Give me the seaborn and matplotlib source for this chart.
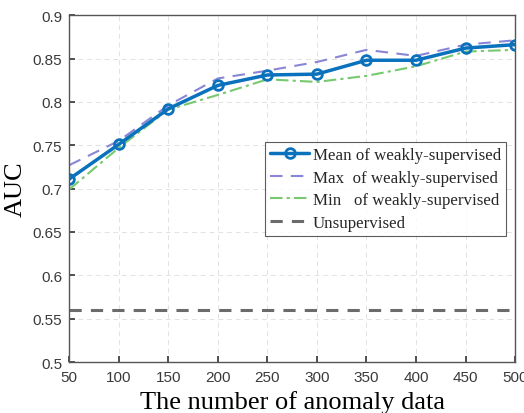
import matplotlib
matplotlib.use("Agg")
import matplotlib.pyplot as plt
import seaborn as sns
import pandas as pd

n_anomaly = [50, 100, 150, 200, 250, 300, 350, 400, 450, 500]
auc_mean = [0.711, 0.751, 0.792, 0.819, 0.831, 0.832, 0.848, 0.848, 0.862, 0.866]
auc_max = [0.727, 0.755, 0.796, 0.827, 0.836, 0.846, 0.860, 0.853, 0.866, 0.871]
auc_min = [0.699, 0.747, 0.791, 0.808, 0.826, 0.823, 0.830, 0.841, 0.858, 0.860]
auc_unsup = [0.56] * len(n_anomaly)
labels = ["Mean of weakly-supervised", "Max  of weakly-supervised",
          "Min   of weakly-supervised", "Unsupervised"]

sns.set_theme(style="white")
plt.rcParams['font.family'] = ['Liberation Sans', 'DejaVu Sans']

fig = plt.figure(figsize=(5.24, 4.14), dpi=100)
ax = fig.add_axes([0.132, 0.123, 0.851, 0.838])

df = pd.DataFrame({"n": n_anomaly, "mean": auc_mean, "max": auc_max,
                   "min": auc_min, "unsup": auc_unsup})

sns.lineplot(data=df, x="n", y="max", ax=ax, color="#8a86d6", lw=1.5,
             linestyle=(0, (6, 4)), label=labels[1])
sns.lineplot(data=df, x="n", y="min", ax=ax, color="#77c96f", lw=1.5,
             linestyle=(0, (6, 2, 1.5, 2)), label=labels[2])
sns.lineplot(data=df, x="n", y="unsup", ax=ax, color="#6b6b6b", lw=2.2,
             linestyle=(0, (4, 3)), label=labels[3])
sns.lineplot(data=df, x="n", y="mean", ax=ax, color="#0a72bd", lw=2.5,
             marker="o", markersize=7, markerfacecolor="none",
             markeredgewidth=2, markeredgecolor="#0a72bd", label=labels[0])

ax.set_xlim(50, 500)
ax.set_ylim(0.5, 0.9)
ax.set_xticks(n_anomaly)
ax.set_xticklabels([str(v) for v in n_anomaly])
yt = [0.5, 0.55, 0.6, 0.65, 0.7, 0.75, 0.8, 0.85, 0.9]
ax.set_yticks(yt)
ax.set_yticklabels(["0.5", "0.55", "0.6", "0.65", "0.7", "0.75", "0.8", "0.85", "0.9"])
ax.tick_params(direction="in", length=4, labelsize=11, colors="#3a3a3a",
               top=False, right=False, left=True, bottom=True)
ax.tick_params(axis="x", pad=6)
ax.tick_params(axis="y", pad=5)
ax.grid(True, color="#e2e2e2", linestyle=(0, (5, 4)), lw=0.7)
for s in ax.spines.values():
    s.set_color("#555555")
    s.set_linewidth(1.0)

ax.set_xlabel("The number of anomaly data", family="Liberation Serif",
              fontsize=19, color="black", labelpad=4)
ax.set_ylabel("AUC", family="Liberation Serif", fontsize=19, color="black", labelpad=4)

h, l = ax.get_legend_handles_labels()
order = [l.index(x) for x in labels]
leg = ax.legend([h[i] for i in order], [l[i] for i in order],
                loc="upper left", bbox_to_anchor=(0.44, 0.634),
                prop={"family": "Liberation Serif", "size": 12.2},
                frameon=True, fancybox=False, edgecolor="#333333",
                handlelength=2.3, handletextpad=0.2, labelspacing=0.38,
                borderpad=0.3, borderaxespad=0)
leg.get_frame().set_linewidth(0.8)

fig.savefig("out.png", dpi=100, facecolor="white")
